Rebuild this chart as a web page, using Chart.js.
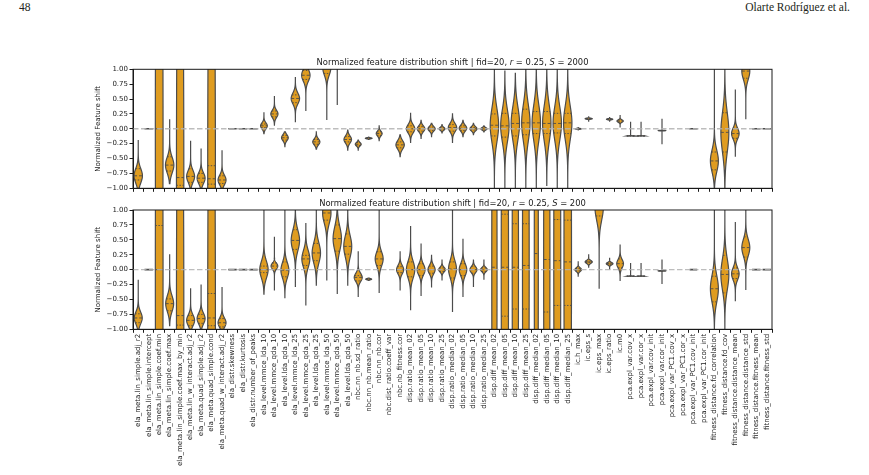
<!DOCTYPE html>
<html>
<head>
<meta charset="utf-8">
<script src="https://cdn.jsdelivr.net/npm/chart.js@4.4.1/dist/chart.umd.min.js"></script>
<style>
  body { margin: 0; background: #fff; width: 869px; height: 475px; position: relative; overflow: hidden; }
  .hdr { position: absolute; top: 1px; font-family: "Liberation Serif", serif; font-size: 11.5px; color: #231f20; }
  .panel { position: absolute; left: 0; width: 869px; }
</style>
</head>
<body>
<div class="hdr" style="left:19px">48</div>
<div class="hdr" style="right:19px">Olarte Rodríguez et al.</div>
<div class="panel" style="top:55px;height:145px"><canvas id="shift2000"></canvas></div>
<div class="panel" style="top:195px;height:280px"><canvas id="shift200"></canvas></div>
<script>
const features = [
  "ela_meta.lin_simple.adj_r2", "ela_meta.lin_simple.intercept", "ela_meta.lin_simple.coef.min",
  "ela_meta.lin_simple.coef.max", "ela_meta.lin_simple.coef.max_by_min", "ela_meta.lin_w_interact.adj_r2",
  "ela_meta.quad_simple.adj_r2", "ela_meta.quad_simple.cond", "ela_meta.quad_w_interact.adj_r2",
  "ela_distr.skewness", "ela_distr.kurtosis", "ela_distr.number_of_peaks",
  "ela_level.mmce_lda_10", "ela_level.mmce_qda_10", "ela_level.lda_qda_10",
  "ela_level.mmce_lda_25", "ela_level.mmce_qda_25", "ela_level.lda_qda_25",
  "ela_level.mmce_lda_50", "ela_level.mmce_qda_50", "ela_level.lda_qda_50",
  "nbc.nn_nb.sd_ratio", "nbc.nn_nb.mean_ratio", "nbc.nn_nb.cor", "nbc.dist_ratio.coeff_var", "nbc.nb_fitness.cor",
  "disp.ratio_mean_02", "disp.ratio_mean_05", "disp.ratio_mean_10", "disp.ratio_mean_25",
  "disp.ratio_median_02", "disp.ratio_median_05", "disp.ratio_median_10", "disp.ratio_median_25",
  "disp.diff_mean_02", "disp.diff_mean_05", "disp.diff_mean_10", "disp.diff_mean_25",
  "disp.diff_median_02", "disp.diff_median_05", "disp.diff_median_10", "disp.diff_median_25",
  "ic.h_max", "ic.eps_s", "ic.eps_max", "ic.eps_ratio", "ic.m0",
  "pca.expl_var.cov_x", "pca.expl_var.cor_x", "pca.expl_var.cov_init", "pca.expl_var.cor_init",
  "pca.expl_var_PC1.cov_x", "pca.expl_var_PC1.cor_x", "pca.expl_var_PC1.cov_init", "pca.expl_var_PC1.cor_init",
  "fitness_distance.fd_correlation", "fitness_distance.fd_cov", "fitness_distance.distance_mean",
  "fitness_distance.distance_std", "fitness_distance.fitness_mean", "fitness_distance.fitness_std"
];

const fid = 20;
const ratio = 0.25;
const sampleSizes = [2000, 200];
const yTicks = [-1, -0.75, -0.5, -0.25, 0, 0.25, 0.5, 0.75, 1];

// per feature: [min, q1, median, q3, max] of the normalized shift (null = not drawn)
const stats2000 = [
  [-1.0, -0.86, -0.79, -0.67, -0.19], [0, 0, 0, 0, 0], [-3, -1.5, 0, 1.5, 3],
  [-0.92, -0.71, -0.61, -0.47, 0.16], [-3, -0.95, -0.82, 2, 3], [-1.0, -0.9, -0.8, -0.67, -0.2],
  [-1.0, -0.9, -0.83, -0.75, -0.33], [-3, -0.93, -0.84, -0.62, 3], [-1.0, -0.92, -0.86, -0.79, -0.36],
  [0, 0, 0, 0, 0], [0, 0, 0, 0, 0], [0, 0, 0, 0, 0],
  [-0.08, 0.02, 0.05, 0.08, 0.27], [0.06, 0.2, 0.25, 0.3, 0.55], [-0.3, -0.19, -0.15, -0.11, -0.05],
  [0.12, 0.44, 0.51, 0.57, 0.86], [0.3, 0.83, 0.9, 0.98, 1.2], [-0.34, -0.26, -0.22, -0.18, -0.05],
  [0.15, 0.93, 1.02, 1.1, 1.3], [0.4, 1.2, 1.3, 1.4, 1.6], [-0.36, -0.22, -0.18, -0.13, -0.02],
  [-0.36, -0.28, -0.26, -0.23, -0.19], [-0.18, -0.165, -0.16, -0.155, -0.14], [-0.2, -0.11, -0.08, -0.05, 0.05],
  null, [-0.47, -0.32, -0.27, -0.22, -0.1],
  [-0.23, -0.05, 0.0, 0.05, 0.26], [-0.16, -0.04, 0.0, 0.04, 0.14], [-0.13, -0.03, 0.0, 0.03, 0.09],
  [-0.07, -0.02, 0.0, 0.02, 0.07], [-0.23, -0.04, 0.02, 0.07, 0.25], [-0.13, -0.03, 0.01, 0.05, 0.14],
  [-0.1, -0.02, 0.0, 0.02, 0.09], [-0.05, -0.015, 0.0, 0.015, 0.05],
  [-1.1, -0.12, 0.06, 0.25, 1.1], [-1.1, -0.14, 0.05, 0.26, 0.97], [-1.1, -0.12, 0.09, 0.26, 0.93],
  [-1.1, -0.1, 0.1, 0.33, 1.1], [-1.1, -0.08, 0.1, 0.29, 1.1], [-0.95, -0.08, 0.09, 0.29, 1.1],
  [-1.1, -0.07, 0.09, 0.26, 1.1], [-1.1, -0.08, 0.1, 0.26, 1.1],
  [-0.03, -0.005, 0.0, 0.005, 0.03], [0.12, 0.165, 0.17, 0.175, 0.21], [1.2, 1.4, 1.5, 1.6, 1.8],
  [0.12, 0.155, 0.16, 0.165, 0.2], [0.02, 0.11, 0.13, 0.15, 0.22],
  [-0.12, -0.12, -0.12, -0.12, 0.12], [-0.12, -0.12, -0.12, -0.12, 0.12], null,
  [-0.26, -0.03, -0.03, -0.03, 0.17], null, null, [0, 0, 0, 0, 0], null,
  [-1.1, -0.69, -0.54, -0.39, 1.1], [-1.1, -0.39, -0.06, 0.27, 1.1], [-0.46, -0.16, -0.08, 0.01, 0.66],
  [0.16, 0.85, 0.97, 1.1, 1.3], [0, 0, 0, 0, 0], [0, 0, 0, 0, 0]
];
// density spread (kde body width, in shift units) and relative peak density
const spread2000 = [0.12, 0, 5, 0.13, 5, 0.1, 0.09, 5, 0.08, 0, 0, 0,
  0.05, 0.06, 0.05, 0.09, 0.1, 0.05, 0.12, 0.1, 0.06, 0.03, 0.008, 0.04, 0, 0.07,
  0.07, 0.05, 0.04, 0.025, 0.07, 0.05, 0.035, 0.02,
  0.28, 0.27, 0.28, 0.3, 0.3, 0.3, 0.28, 0.28,
  0.006, 0.008, 0.1, 0.008, 0.02, 0.003, 0.003, 0, 0.003, 0, 0, 0, 0,
  0.18, 0.33, 0.09, 0.14, 0, 0];
const peak2000 = [1.0, 1, 0.92, 1.0, 0.88, 0.95, 0.95, 0.92, 0.95, 1, 1, 1,
  0.8, 0.85, 0.8, 1.0, 1.0, 0.85, 0.95, 1.0, 0.9, 0.7, 0.8, 0.7, 0, 1.0,
  1.0, 0.9, 0.85, 0.7, 1.0, 0.9, 0.85, 0.75,
  1, 1, 1, 1, 1, 1, 1, 1,
  0.75, 0.85, 1.0, 0.75, 0.75, 0.9, 0.9, 0, 0.9, 0, 0, 1, 0,
  0.95, 0.95, 0.9, 0.95, 1, 1];

const stats200 = [
  [-1.0, -0.89, -0.81, -0.74, -0.17], [0, 0, 0, 0, 0], [-3, -1.5, 0, 0.74, 3],
  [-0.94, -0.69, -0.57, -0.49, 0.26], [-3, -0.93, -0.77, 2, 3], [-1.0, -0.94, -0.85, -0.77, -0.31],
  [-1.0, -0.9, -0.82, -0.75, -0.25], [-3, -0.94, -0.81, -0.4, 3], [-1.0, -0.96, -0.89, -0.82, -0.29],
  [0, 0, 0, 0, 0], [0, 0, 0, 0, 0], [0, 0, 0, 0, 0],
  [-0.41, -0.05, 0.0, 0.06, 1.1], [-0.35, 0.0, 0.06, 0.11, 0.55], [-0.47, -0.12, -0.01, 0.13, 1.1],
  [-0.28, 0.34, 0.49, 0.67, 1.1], [-0.6, 0.07, 0.18, 0.24, 0.77], [-0.26, 0.15, 0.28, 0.44, 1.1],
  [-0.18, 0.83, 0.95, 1.1, 1.3], [-0.4, 0.31, 0.52, 0.75, 1.1], [-0.26, 0.26, 0.39, 0.6, 1.1],
  [-0.45, -0.19, -0.13, -0.1, 0.31], [-0.18, -0.165, -0.16, -0.155, -0.14], [-0.38, 0.07, 0.18, 0.3, 1.1],
  null, [-0.35, -0.05, 0.0, 0.05, 0.3],
  [-0.67, -0.12, 0.0, 0.13, 0.73], [-0.43, -0.1, 0.0, 0.1, 0.43], [-0.29, -0.06, 0.0, 0.06, 0.24],
  [-0.17, -0.03, 0.0, 0.03, 0.16], [-0.71, -0.14, 0.01, 0.13, 1.1], [-0.45, -0.1, 0.0, 0.1, 0.52],
  [-0.29, -0.06, 0.0, 0.06, 0.16], [-0.17, -0.03, 0.0, 0.03, 0.16],
  [-3, -1.5, 0.04, 1.5, 3], [-3, -0.78, 0.04, 0.93, 3], [-3, -0.66, 0.04, 0.77, 3],
  [-3, -0.66, 0.07, 0.77, 3], [-3, -1.5, 0.27, 1.5, 3], [-3, -0.71, 0.17, 1.5, 3],
  [-3, -0.6, 0.15, 0.84, 3], [-3, -0.6, 0.13, 0.83, 3],
  [-0.11, -0.02, 0.0, 0.02, 0.13], [0.04, 0.12, 0.13, 0.14, 0.26], [-0.32, 0.9, 1.05, 1.2, 1.4],
  [0.0, 0.09, 0.1, 0.11, 0.2], [-0.18, 0.03, 0.1, 0.18, 0.41],
  [-0.11, -0.11, -0.11, -0.11, 0.11], [-0.11, -0.11, -0.11, -0.11, 0.11], null,
  [-0.24, -0.02, -0.02, -0.02, 0.17], null, null, [0, 0, 0, 0, 0], null,
  [-1.1, -0.54, -0.32, -0.11, 1.1], [-1.1, -0.39, -0.08, 0.24, 1.1], [-0.52, -0.15, -0.07, 0.03, 0.8],
  [-0.34, 0.21, 0.37, 0.55, 1.1], [0, 0, 0, 0, 0], [0, 0, 0, 0, 0]
];
const spread200 = [0.1, 0, 5, 0.13, 5, 0.09, 0.09, 5, 0.08, 0, 0, 0,
  0.14, 0.05, 0.13, 0.17, 0.14, 0.17, 0.17, 0.2, 0.18, 0.07, 0.01, 0.12, 0, 0.07,
  0.14, 0.09, 0.07, 0.04, 0.14, 0.1, 0.05, 0.035,
  5, 5, 5, 5, 5, 5, 5, 5,
  0.03, 0.025, 0.22, 0.02, 0.07, 0.003, 0.003, 0, 0.003, 0, 0, 0, 0,
  0.22, 0.26, 0.1, 0.14, 0, 0];
const peak200 = [0.95, 1, 0.92, 0.95, 0.88, 0.95, 0.95, 0.92, 0.95, 1, 1, 1,
  1.0, 0.8, 0.95, 1.0, 0.95, 1.0, 1.0, 1.0, 0.95, 0.95, 0.7, 0.95, 0, 0.85,
  1.0, 0.95, 0.85, 0.8, 0.95, 0.9, 0.85, 0.8,
  0.63, 0.87, 0.75, 0.8, 0.48, 0.75, 0.83, 0.9,
  0.8, 0.85, 1.0, 0.8, 0.8, 0.9, 0.9, 0, 0.85, 0, 0, 0.9, 0,
  0.95, 0.95, 0.9, 0.95, 1, 1];

const FILL = "#df9c20";
const EDGE = "#4c4c4c";
const INK = "#1a1a1a";
const FONT = '"DejaVu Sans", sans-serif';

const fmt = (v) => (v < 0 ? "\u2212" : "") + Math.abs(v).toFixed(2);

// draws the violins, quartile lines, zero line, frame and title
function violinPlugin(stats, spread, peak, sample) {
  return {
    id: "violins",
    afterDatasetsDraw(chart) {
      const { ctx, chartArea: a, scales: { x, y } } = chart;
      const half = (x.getPixelForValue(1) - x.getPixelForValue(0)) * 0.4;
      ctx.save();
      ctx.beginPath();
      ctx.rect(a.left, a.top, a.right - a.left, a.bottom - a.top);
      ctx.clip();
      ctx.strokeStyle = EDGE;

      stats.forEach((s, i) => {
        if (!s) return;
        const [lo, q1, med, q3, hi] = s;
        const cx = x.getPixelForValue(i);
        const w = half * peak[i];
        if (hi - lo < 1e-6) {
          // all values equal: a flat line
          ctx.lineWidth = 1.6;
          ctx.beginPath();
          ctx.moveTo(cx - w, y.getPixelForValue(med));
          ctx.lineTo(cx + w, y.getPixelForValue(med));
          ctx.stroke();
          return;
        }
        const sd = spread[i];
        const prof = (v) => w * Math.exp(-0.5 * Math.pow((v - med) / sd, 2));
        const vs = [];
        const n = 200;
        for (let k = 0; k <= n; k++) vs.push(lo + ((hi - lo) * k) / n);
        vs.push(med);
        vs.sort((p, q) => p - q);
        ctx.beginPath();
        vs.forEach((v, k) => {
          const px = cx + prof(v);
          const py = y.getPixelForValue(v);
          if (k) ctx.lineTo(px, py); else ctx.moveTo(px, py);
        });
        for (let k = vs.length - 1; k >= 0; k--) {
          ctx.lineTo(cx - prof(vs[k]), y.getPixelForValue(vs[k]));
        }
        ctx.closePath();
        ctx.fillStyle = FILL;
        ctx.fill();
        ctx.lineWidth = 1.2;
        ctx.stroke();

        ctx.lineWidth = 0.9;
        [[q1, [1.5, 1.5]], [med, [3, 2]], [q3, [1.5, 1.5]]].forEach(([q, dash]) => {
          if (q < lo || q > hi) return;
          const hw = prof(q);
          const py = y.getPixelForValue(q);
          ctx.setLineDash(dash);
          ctx.beginPath();
          ctx.moveTo(cx - hw, py);
          ctx.lineTo(cx + hw, py);
          ctx.stroke();
        });
        ctx.setLineDash([]);
      });

      // zero reference line
      ctx.strokeStyle = "rgba(178,178,178,0.85)";
      ctx.lineWidth = 1.4;
      ctx.setLineDash([5.5, 2.5]);
      ctx.beginPath();
      ctx.moveTo(a.left, y.getPixelForValue(0));
      ctx.lineTo(a.right, y.getPixelForValue(0));
      ctx.stroke();
      ctx.restore();

      // axes frame
      ctx.save();
      ctx.strokeStyle = INK;
      ctx.lineWidth = 1;
      ctx.strokeRect(a.left, a.top, a.right - a.left, a.bottom - a.top);

      // title with italic math symbols
      const parts = [
        ["Normalized feature distribution shift | fid=" + fid + ", ", false],
        ["r", true], [" = " + ratio + ", ", false],
        ["S", true], [" = " + sample, false]
      ];
      const fN = "8.4px " + FONT, fI = "italic 8.4px " + FONT;
      let total = 0;
      parts.forEach(([t, it]) => { ctx.font = it ? fI : fN; total += ctx.measureText(t).width; });
      let tx = (a.left + a.right) / 2 - total / 2;
      ctx.fillStyle = INK;
      ctx.textAlign = "left";
      ctx.textBaseline = "alphabetic";
      parts.forEach(([t, it]) => {
        ctx.font = it ? fI : fN;
        ctx.fillText(t, tx, a.top - 4);
        tx += ctx.measureText(t).width;
      });
      ctx.restore();
    }
  };
}

function makeChart(id, stats, spread, peak, sample, showLabels, topPad, xHeight) {
  return new Chart(document.getElementById(id), {
    type: "bar",
    data: {
      labels: features,
      datasets: [{
        data: stats.map((s) => (s ? [s[0], s[4]] : null)),
        backgroundColor: "rgba(0,0,0,0)",
        borderWidth: 0
      }]
    },
    options: {
      responsive: true,
      maintainAspectRatio: false,
      animation: false,
      layout: { padding: { left: 90, right: 97, top: topPad, bottom: 0 } },
      plugins: { legend: { display: false }, tooltip: { enabled: false } },
      scales: {
        x: {
          type: "category",
          offset: true,
          grid: { drawOnChartArea: false, drawTicks: true, tickLength: 3.5, color: INK },
          border: { display: true, color: INK, width: 1 },
          ticks: {
            display: showLabels,
            autoSkip: false,
            minRotation: 90,
            maxRotation: 90,
            padding: 1,
            color: INK,
            font: { family: FONT, size: 7 }
          },
          afterFit: (s) => { s.height = xHeight; }
        },
        y: {
          min: -1,
          max: 1,
          afterBuildTicks: (s) => { s.ticks = yTicks.map((v) => ({ value: v })); },
          grid: { drawOnChartArea: false, drawTicks: true, tickLength: 3.5, color: INK },
          border: { display: true, color: INK, width: 1 },
          ticks: { padding: 1.5, color: INK, font: { family: FONT, size: 7 }, callback: (v) => fmt(v) },
          title: {
            display: true,
            text: "Normalized Feature shift",
            color: INK,
            padding: { top: 4, bottom: 2 },
            font: { family: FONT, size: 7 }
          },
          afterFit: (s) => { s.width = 43; }
        }
      }
    },
    plugins: [violinPlugin(stats, spread, peak, sample)]
  });
}

makeChart("shift2000", stats2000, spread2000, peak2000, sampleSizes[0], false, 14.3, 11.7);
makeChart("shift200", stats200, spread200, peak200, sampleSizes[1], true, 15, 145.7);
</script>
</body>
</html>
